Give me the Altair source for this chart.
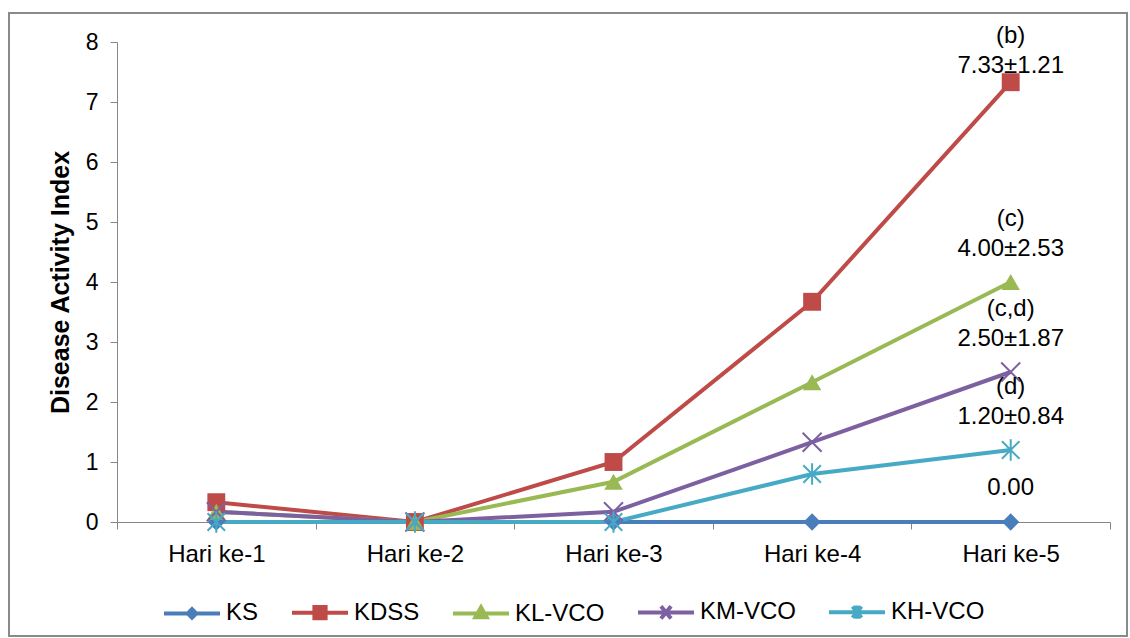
import altair as alt
import pandas as pd

# ---- data -------------------------------------------------------------
days = ["Hari ke-1", "Hari ke-2", "Hari ke-3", "Hari ke-4", "Hari ke-5"]
groups = ["KS", "KDSS", "KL-VCO", "KM-VCO", "KH-VCO"]

ks = [0.00, 0.00, 0.00, 0.00, 0.00]
kdss = [0.33, 0.00, 1.00, 3.67, 7.33]
kl_vco = [0.17, 0.00, 0.67, 2.33, 4.00]
km_vco = [0.17, 0.00, 0.17, 1.33, 2.50]
kh_vco = [0.00, 0.00, 0.00, 0.80, 1.20]

end_labels = ["0.00", "(b)\n7.33±1.21", "(c)\n4.00±2.53", "(c,d)\n2.50±1.87", "(d)\n1.20±0.84"]

y_ticks = [0, 1, 2, 3, 4, 5, 6, 7, 8]

# ---- styling ----------------------------------------------------------
colors = ["#4a7ebb", "#be4b48", "#98b954", "#7d60a0", "#46aac5"]
FONT = "Liberation Sans"
GREY = "#868686"

X_PATH = "M-1,-1L1,1M-1,1L1,-1"
STAR_PATH = "M-0.9,-0.9L0.9,0.9M-0.9,0.9L0.9,-0.9M0,-1.1L0,1.1"
marker_shapes = ["diamond", "square", "triangle-up", X_PATH, STAR_PATH]
marker_sizes = [300, 380, 440, 420, 440]

# legend glyphs: a horizontal line with a small marker in the middle
legend_shapes = [
    "M-1,0L1,0M0,-0.15L0.15,0L0,0.15L-0.15,0ZM0,-0.1L0,0.1",
    "M-1,0L1,0M-0.2,-0.2L0.2,-0.2L0.2,0.2L-0.2,0.2ZM-0.2,-0.1L0.2,-0.1M-0.2,0.1L0.2,0.1",
    "M-1,0L1,0M0,-0.22L0.2,0.13L-0.2,0.13ZM0,-0.1L0,0.13M-0.1,0.06L0.1,0.06",
    "M-1,0L1,0M-0.18,-0.22L0.18,0.22M-0.18,0.22L0.18,-0.22",
    "M-1,0L1,0M-0.16,-0.2L0.16,0.2M-0.16,0.2L0.16,-0.2M0,-0.24L0,0.24",
]

series = {"KS": ks, "KDSS": kdss, "KL-VCO": kl_vco, "KM-VCO": km_vco, "KH-VCO": kh_vco}
rows = []
for g in groups:
    for d, v in zip(days, series[g]):
        rows.append({"day": d, "group": g, "value": v})
df = pd.DataFrame(rows)

ann = pd.DataFrame({
    "day": [days[-1]] * len(groups),
    "group": groups,
    "value": [series[g][-1] for g in groups],
    "label": end_labels,
})

x_enc = alt.X(
    "day:N",
    sort=days,
    scale=alt.Scale(type="band", paddingInner=0, paddingOuter=0),
    axis=alt.Axis(
        title=None, tickBand="extent", tickSize=7, labelPadding=13,
        labelFontSize=24, labelAngle=0, grid=False,
    ),
)
y_enc = alt.Y(
    "value:Q",
    scale=alt.Scale(domain=[0, 8], nice=False),
    axis=alt.Axis(
        values=y_ticks, title="Disease Activity Index", grid=False,
        tickSize=7, labelPadding=12, labelFontSize=23,
        titleFontSize=25, titleFontWeight="bold", titlePadding=12,
    ),
)
color_scale = alt.Scale(domain=groups, range=colors)

base = alt.Chart(df)

lines = base.mark_line(strokeWidth=4).encode(
    x=x_enc, y=y_enc,
    color=alt.Color("group:N", scale=color_scale, legend=None),
    detail="group:N",
)

filled_pts = base.transform_filter(
    alt.FieldOneOfPredicate(field="group", oneOf=groups[:3])
).mark_point(filled=True, opacity=1).encode(
    x=x_enc, y=y_enc,
    color=alt.Color("group:N", scale=color_scale, legend=None),
    shape=alt.Shape("group:N", scale=alt.Scale(domain=groups, range=marker_shapes), legend=None),
    size=alt.Size("group:N", scale=alt.Scale(domain=groups, range=marker_sizes), legend=None),
)

stroke_pts = base.transform_filter(
    alt.FieldOneOfPredicate(field="group", oneOf=groups[3:])
).mark_point(filled=False, opacity=1, strokeWidth=2).encode(
    x=x_enc, y=y_enc,
    color=alt.Color("group:N", scale=color_scale, legend=None),
    shape=alt.Shape("group:N", scale=alt.Scale(domain=groups, range=marker_shapes), legend=None),
    size=alt.Size("group:N", scale=alt.Scale(domain=groups, range=marker_sizes), legend=None),
)

# value labels beside the final day's markers
text_kw = dict(fontSize=24, lineBreak="\n", lineHeight=30, baseline="bottom",
               align="center", color="black")
ann_chart = alt.Chart(ann)
labels_kdss = ann_chart.transform_filter(alt.datum.group == "KDSS").mark_text(
    dy=-34, **text_kw
).encode(x=x_enc, y=y_enc, text="label:N")
labels_ks = ann_chart.transform_filter(alt.datum.group == "KS").mark_text(
    dy=-22, **text_kw
).encode(x=x_enc, y=y_enc, text="label:N")
labels_vco = ann_chart.transform_filter(
    alt.FieldOneOfPredicate(field="group", oneOf=groups[2:])
).mark_text(dy=-51, **text_kw).encode(x=x_enc, y=y_enc, text="label:N")

legend_cfg = alt.Legend(
    title=None, orient="none", direction="horizontal", legendX=45, legendY=540,
    symbolSize=3136, symbolStrokeWidth=4, labelFontSize=24, labelOffset=4,
    columnPadding=25, labelColor="black",
)
legend_layer = base.transform_filter("false").mark_point(filled=False, opacity=1).encode(
    color=alt.Color("group:N", scale=color_scale, legend=legend_cfg),
    shape=alt.Shape("group:N", scale=alt.Scale(domain=groups, range=legend_shapes), legend=legend_cfg),
)

frame = alt.Chart(pd.DataFrame({"k": [0]})).mark_rect(
    fillOpacity=0, stroke="#8a8a8a", strokeWidth=2
).encode(
    x=alt.value(-108), x2=alt.value(1010), y=alt.value(-29), y2=alt.value(594)
)

chart = alt.layer(
    frame, lines, filled_pts, stroke_pts, labels_kdss, labels_ks, labels_vco, legend_layer
).resolve_scale(
    color="independent", shape="independent"
).properties(
    width=993, height=480,
    autosize=alt.AutoSizeParams(type="none"),
    padding={"left": 117, "top": 42, "right": 20, "bottom": 116},
).configure(
    font=FONT,
).configure_view(
    stroke=None,
).configure_axis(
    domainColor=GREY, tickColor=GREY, labelColor="black", titleColor="black",
    labelFont=FONT, titleFont=FONT,
).configure_legend(
    labelFont=FONT,
)

chart.save("out.html", embed_options={"renderer": "svg", "actions": False})
